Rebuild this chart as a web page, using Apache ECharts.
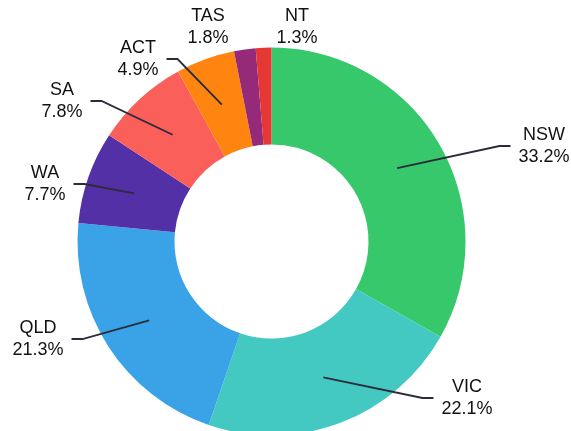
<!DOCTYPE html>
<html>
<head>
<meta charset="utf-8">
<script src="https://cdn.jsdelivr.net/npm/echarts@6/dist/echarts.min.js"></script>
<style>
  html, body { margin: 0; padding: 0; background: #ffffff; }
  #chart { width: 571px; height: 431px; }
</style>
</head>
<body>
<div id="chart"></div>
<script>
// Share of total by state / territory (%)
const states = ['NSW', 'VIC', 'QLD', 'WA', 'SA', 'ACT', 'TAS', 'NT'];
const shares = [33.2, 22.1, 21.3, 7.7, 7.8, 4.9, 1.8, 1.3];
const sliceColors = ['#36C86B', '#44C9C2', '#3AA3E8', '#5330A6', '#FA5F5A', '#FF8410', '#942A78', '#E53835'];
// Small slices are labelled without a leader line
const withLeader = [true, true, true, true, true, true, false, false];

// Ring geometry (px)
const CX = 271.5, CY = 241.5, R_IN = 97, R_OUT = 194;
// Text anchor of each label, relative to the ring centre (px)
const labelOffsets = [
  [272.5, -95.5], [195.5, 156.5], [-233.5, 97.5], [-226.5, -57.5],
  [-209.5, -140.5], [-133.5, -182.5], [-63.5, -214.5], [25.5, -214.5]
];

const total = shares.reduce((a, b) => a + b, 0);
function midAngle(i) {
  let before = 0;
  for (let k = 0; k < i; k++) before += shares[k];
  return (before + shares[i] / 2) / total * 2 * Math.PI;
}

const ringBase = {
  type: 'pie',
  center: [CX, CY],
  radius: [R_IN, R_OUT],
  startAngle: 90,
  clockwise: true,
  avoidLabelOverlap: false
};

const chart = echarts.init(document.getElementById('chart'), null, { renderer: 'canvas' });
chart.setOption({
  animation: false,
  series: [
    // coloured ring
    Object.assign({}, ringBase, {
      z: 2,
      itemStyle: { borderWidth: 0 },
      label: { show: false },
      labelLine: { show: false },
      data: states.map((s, i) => ({ name: s, value: shares[i], itemStyle: { color: sliceColors[i] } }))
    }),
    // labels and leader lines, drawn above the ring
    Object.assign({}, ringBase, {
      z: 5,
      silent: true,
      itemStyle: { color: 'rgba(0,0,0,0)', borderWidth: 0 },
      emphasis: { disabled: true },
      label: {
        show: true,
        formatter: p => p.name + '\n' + p.value.toFixed(1) + '%',
        fontFamily: '"Liberation Sans", Arial, sans-serif',
        fontSize: 18,
        lineHeight: 22,
        color: '#111111',
        align: 'center'
      },
      labelLine: {
        show: true,
        length: 20,
        length2: 10,
        smooth: false,
        lineStyle: { color: '#2b2b3a', width: 1.8 }
      },
      labelLayout: function (params) {
        const i = params.dataIndex;
        const off = labelOffsets[i];
        const lx = CX + off[0], ly = CY + off[1];
        const res = { x: lx, y: ly, align: 'center', verticalAlign: 'middle' };
        if (withLeader[i]) {
          const a = midAngle(i);
          const rMid = (R_IN + R_OUT) / 2;
          const sx = CX + rMid * Math.sin(a), sy = CY - rMid * Math.cos(a);
          const side = off[0] >= 0 ? 1 : -1;
          const endX = lx - side * (params.labelRect.width / 2 + 8);
          const bendX = endX - side * 11;
          res.labelLinePoints = [[sx, sy], [bendX, ly], [endX, ly]];
        }
        return res;
      },
      data: states.map((s, i) => ({
        name: s,
        value: shares[i],
        labelLine: { show: withLeader[i] }
      }))
    })
  ]
});
</script>
</body>
</html>
